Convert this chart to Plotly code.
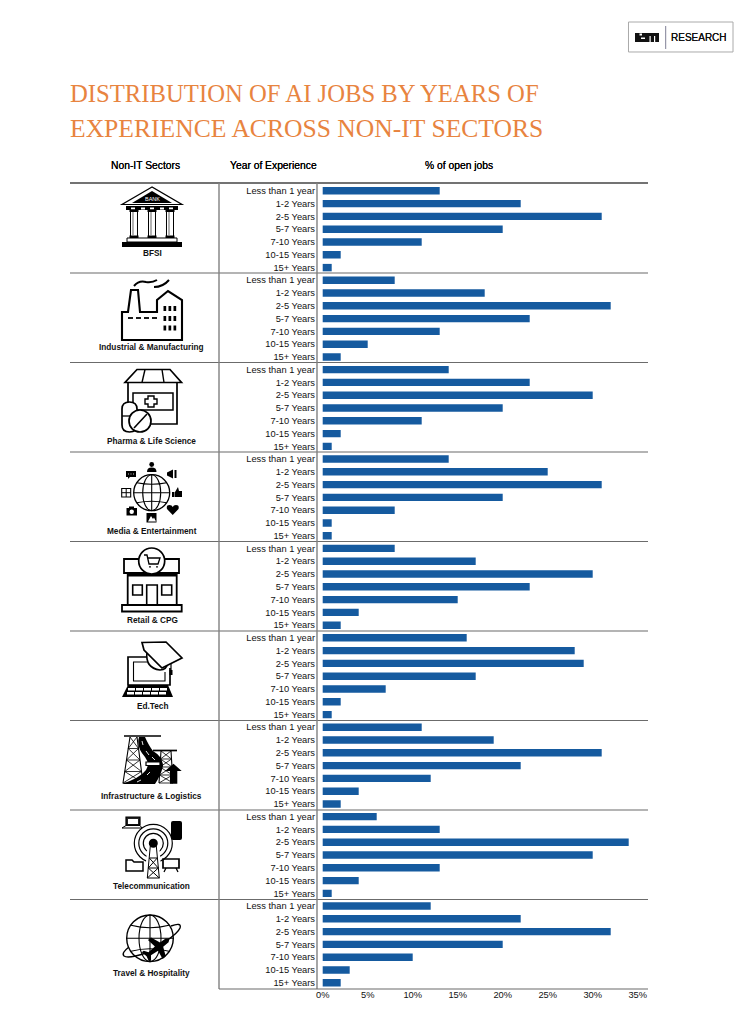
import re
import numpy as np
import plotly.graph_objects as go

W, H = 754, 1014

# ---------- data ----------
experience = ["Less than 1 year", "1-2 Years", "2-5 Years", "5-7 Years", "7-10 Years", "10-15 Years", "15+ Years"]
sectors = ["BFSI", "Industrial & Manufacturing", "Pharma & Life Science", "Media & Entertainment",
           "Retail & CPG", "Ed.Tech", "Infrastructure & Logistics", "Telecommunication", "Travel & Hospitality"]
bfsi = [13, 22, 31, 20, 11, 2, 1]
industrial = [8, 18, 32, 23, 13, 5, 2]
pharma = [14, 23, 30, 20, 11, 2, 1]
media = [14, 25, 31, 20, 8, 1, 1]
retail = [8, 17, 30, 23, 15, 4, 2]
edtech = [16, 28, 29, 17, 7, 2, 1]
infrastructure = [11, 19, 31, 22, 12, 4, 2]
telecom = [6, 13, 34, 30, 13, 4, 1]
travel = [12, 22, 32, 20, 10, 3, 2]
x_ticks = [0, 5, 10, 15, 20, 25, 30, 35]
title_lines = ["DISTRIBUTION OF AI JOBS BY YEARS OF", "EXPERIENCE ACROSS NON-IT SECTORS"]

series = [bfsi, industrial, pharma, media, retail, edtech, infrastructure, telecom, travel]
BAR = "#155A9F"
RULE = "#6b6b6b"

# ---------- pixel helpers (decorations only) ----------
shapes = []
annots = []
TOK = re.compile(r"[MLQCZ]|-?\d+\.?\d*")


def conv(d):
    out, isx = [], True
    for t in TOK.findall(d):
        if t in "MLQCZ":
            out.append(t)
        else:
            v = float(t)
            out.append(f"{v / W:.5f}" if isx else f"{1 - v / H:.5f}")
            isx = not isx
    return " ".join(out)


def sh(d, fill=None, w=0.0, c="#000"):
    shapes.append(dict(type="path", path=conv(d), xref="paper", yref="paper",
                       fillcolor=fill or "rgba(0,0,0,0)", line=dict(color=c, width=w)))


def line(x0, y0, x1, y1, w=1.0, c="#000"):
    sh(f"M {x0} {y0} L {x1} {y1}", None, w, c)


def rect(x0, y0, x1, y1, fill=None, w=1.4, c="#000"):
    sh(f"M {x0} {y0} L {x1} {y0} L {x1} {y1} L {x0} {y1} Z", fill, w, c)


def poly(pts, fill="#000", w=0.0, c="#000"):
    d = "M " + " L ".join(f"{a} {b}" for a, b in pts) + " Z"
    sh(d, fill, w, c)


def circ(cx, cy, r, ry=None, fill=None, w=1.4, c="#000"):
    ry = r if ry is None else ry
    shapes.append(dict(type="circle", xref="paper", yref="paper",
                       x0=(cx - r) / W, x1=(cx + r) / W, y0=1 - (cy + ry) / H, y1=1 - (cy - ry) / H,
                       fillcolor=fill or "rgba(0,0,0,0)", line=dict(color=c, width=w)))


def text(x, y, s, size=9.5, color="#111", anchor="center", bold=False, family="Liberation Sans", shadow=None):
    f = dict(family=family, size=size, color=color)
    if shadow:
        f["shadow"] = shadow
    annots.append(dict(xref="paper", yref="paper", x=x / W, y=1 - y / H, text=f"<b>{s}</b>" if bold else s,
                       showarrow=False, xanchor=anchor, yanchor="middle", align=anchor, font=f))


# ---------- rules ----------
GROUP_RULES = [273, 362.5, 452, 541.5, 631, 720.5, 810, 899.5]
line(70, 183, 648, 183, 1.7, "#444")
for yy in GROUP_RULES:
    line(70, yy, 648, yy, 1.1, RULE)
line(219, 183, 219, 989, 1.4, "#808080")
line(317, 183, 317, 989, 1.4, "#808080")
line(219, 989, 648, 989, 1.1, RULE)

# ---------- BFSI icon ----------
sh("M 152 187 L 122 204.5 L 182 204.5 Z", None, 1.2)
poly([(152, 191), (132, 203), (172, 203)])
text(152, 198.5, "BANK", 5.5, "#fff")
rect(126, 206, 178, 210, "#000", 0)
for xx in (131, 141, 150, 160, 169):
    rect(xx, 207.5, xx + 4, 209.5, "#fff", 0)
for xx in (134, 152, 170):
    rect(xx - 3.5, 210, xx + 3.5, 237, None, 1.0)
    line(xx - 1, 212, xx - 1, 235, 0.6)
    rect(xx - 4.5, 235.5, xx + 4.5, 238, "#000", 0)
    rect(xx - 4.5, 210, xx + 4.5, 212, "#000", 0)
rect(127, 238, 177, 242, None, 1.0)
rect(122, 242, 182, 247, "#000", 0)

# ---------- Industrial icon ----------
sh("M 122 340 L 122 312 L 128 312 L 131 290 L 138 290 L 140 312 L 157 312 L 157 300 "
   "L 168 291 L 182 300 L 182 340 Z", None, 2.1)
for xx in (128, 136, 144, 152):
    line(xx, 318, xx + 5, 318, 1.8)
for yy in (306, 316, 325.5):
    for xx in (163.5, 168.5, 173.5):
        rect(xx, yy, xx + 2.7, yy + 5, "#000", 0)
sh("M 134 286 Q 139 280 146 282 Q 152 283 157 280", None, 2.0)
sh("M 154 287 Q 163 287 169 280", None, 2.0)

# ---------- Pharma icon ----------
poly([(137, 369.5), (170, 369.5), (181.5, 382.5), (125, 382.5)], None, 1.7)
line(145, 369.5, 142, 382.5, 1.4)
line(162, 369.5, 164, 382.5, 1.4)
sh("M 128 383 L 128 404 M 177 383 L 177 424 L 148 424", None, 1.7)
rect(133, 393, 173, 410, None, 1.5)
sh("M 148 396 L 154 396 L 154 399 L 157 399 L 157 404 L 154 404 L 154 407 L 148 407 L 148 404 "
   "L 145 404 L 145 399 L 148 399 Z", "#fff", 1.4)
sh("M 122 409 Q 122 402 129.5 402 Q 137 402 137 409 L 137 425 Q 137 432 129.5 432 Q 122 432 122 425 Z", "#fff", 1.7)
line(122, 416, 137, 416, 1.3)
circ(140, 421, 11, fill="#fff", w=1.7)
line(134, 428, 147, 414, 1.6)

# ---------- Media icon ----------
cx, cy = 151.7, 492.7
circ(cx, cy, 18, w=1.3)
circ(cx, cy, 9, 18, w=1.1)
line(cx, cy - 18, cx, cy + 18, 1.1)
line(cx - 18, cy, cx + 18, cy, 1.1)
sh(f"M {cx - 15} {cy - 10} Q {cx} {cy - 7} {cx + 15} {cy - 10} M {cx - 15} {cy + 10} Q {cx} {cy + 7} {cx + 15} {cy + 10}", None, 1.1)
circ(151.7, 464.5, 2.4, fill="#000", w=0)
sh("M 147 472 Q 147 467.5 151.7 467.5 Q 156.5 467.5 156.5 472 Z", "#000")
sh("M 126 471 L 136 471 L 136 477 L 130 477 L 128 479 L 128 477 L 126 477 Z", "#000")
for xx in (128.5, 131, 133.5):
    rect(xx - 0.4, 473.6, xx + 0.4, 474.4, "#fff", 0)
poly([(167, 472.5), (173, 469.5), (173, 478.5), (167, 475.5)])
rect(174.5, 470, 176.5, 478, "#000", 0)
rect(121.7, 488.5, 130.7, 497, None, 1.1)
line(126.2, 488.5, 126.2, 497, 1.0)
line(121.7, 492.7, 130.7, 492.7, 1.0)
rect(172, 492, 174.5, 497, "#000", 0)
sh("M 175 492 L 178 487 L 179 491 L 182 491 L 182 497 L 175 497 Z", "#000")
sh("M 172.7 515 L 167 509 Q 166 505 169.5 505 Q 172 505 172.7 507 Q 173.5 505 176 505 Q 179.5 505 178.5 509 Z", "#000")
rect(146.5, 513, 156.5, 522.5, "#000", 0)
poly([(148, 521.5), (151, 516), (153, 519), (154, 517.5), (156, 521.5)], "#fff")
rect(126.5, 508, 137, 515.5, "#000", 0)
rect(129, 506.5, 134, 508.5, "#000", 0)
circ(131.7, 511.7, 2.2, fill="#fff", w=0)

# ---------- Retail icon ----------
sh("M 127.7 573 L 127.7 605 M 176.7 573 L 176.7 605", None, 1.8)
rect(124, 559, 179, 573, None, 1.8)
rect(127.7, 573, 176.7, 576.5, "#000", 0)
circ(151.7, 561, 13, fill="#fff", w=1.7)
sh("M 144 555 L 147 555 L 149 564 L 158 564 L 160 558 L 147.5 558", None, 1.3)
circ(150, 566.8, 0.9, fill="#000", w=0)
circ(157, 566.8, 0.9, fill="#000", w=0)
sh("M 146.7 605 L 146.7 585 L 157.3 585 L 157.3 605", None, 1.6)
rect(132.7, 585, 142.3, 595, None, 1.6)
rect(161.7, 585, 171.7, 595, None, 1.6)
rect(122, 605, 181.7, 611.5, None, 1.8)

# ---------- Ed.Tech icon ----------
sh("M 147 657 L 128 657 L 128 685 L 170 685 L 170 668", None, 1.7)
sh("M 147 662 L 133.5 662 L 133.5 681 L 165 681 L 165 672", None, 1.1)
poly([(128, 685), (168, 685), (173, 697), (122, 697)])
for xx in (128, 136, 144, 152, 160):
    rect(xx, 688, xx + 7, 690.5, "#fff", 0)
    rect(xx - 1, 692, xx + 6, 694.5, "#fff", 0)
sh("M 147 652 Q 145 668 160 670 Q 167 670 168 662", "#fff", 1.6)
poly([(142, 642.5), (166, 642), (182, 658), (162, 668), (144, 650)], "#fff", 1.7)
line(171, 664, 171, 672, 1.2)
rect(169.5, 670, 172.5, 675, "#000", 0)

# ---------- Infrastructure icon ----------
line(124, 736, 161, 736, 1.7)
line(153, 750.5, 177, 750.5, 1.7)
for pts in ((130, 737, 123, 783, 137, 737, 143, 783), (161, 751, 159, 783, 171, 751, 173, 783)):
    a, b, c2, d = pts[0], pts[2], pts[4], pts[6]
    sh(f"M {a} {pts[1]} L {b} {pts[3]} M {c2} {pts[5]} L {d} {pts[7]}", None, 1.1)
    n = 4
    t0, t1 = pts[1], pts[3]
    for i in range(n):
        y0 = t0 + (t1 - t0) * i / n
        y1 = t0 + (t1 - t0) * (i + 1) / n
        lx0 = a + (b - a) * i / n
        rx0 = c2 + (d - c2) * i / n
        lx1 = a + (b - a) * (i + 1) / n
        rx1 = c2 + (d - c2) * (i + 1) / n
        sh(f"M {lx0} {y0} L {rx1} {y1} M {rx0} {y0} L {lx1} {y1} M {lx1} {y1} L {rx1} {y1}", None, 0.8)
sh("M 139 737 L 145 737 Q 149 746 153 751 Q 163 757 163 766 Q 161 775 155 784 L 121.7 784 "
   "Q 140 778 146 770 Q 150 764 145 757 Q 136 747 139 737 Z", "#000", 0)
for (x0_, y0_, x1_, y1_) in ((142, 741, 143, 745), (146, 751, 149, 755), (152, 757, 155, 760),
                             (150, 772, 147, 775), (141, 780, 137, 782)):
    line(x0_, y0_, x1_, y1_, 0.9, "#fff")
rect(146, 762, 160, 765.5, "#fff", 1.2)
poly([(173.5, 763.7), (181.7, 771), (177.3, 771), (177.3, 783.7), (170, 783.7), (170, 771), (165, 771)])

# ---------- Telecom icon ----------
cx, cy = 153.3, 843.3
circ(cx, cy, 10, w=1.2)
circ(cx, cy, 14.5, w=1.2)
circ(cx, cy, 19, w=1.2)
poly([(cx - 6, 848), (cx + 6, 848), (cx + 9, 880), (cx - 9, 880)], "#fff", 0)
circ(cx, cy, 4.5, fill="#000", w=0)
sh(f"M {cx - 3} 846 L {cx - 6} 878 M {cx + 3} 846 L {cx + 6} 878 M {cx - 4} 858 L {cx + 4} 858 "
   f"M {cx - 5} 868 L {cx + 5} 868 M {cx - 6} 878 L {cx + 6} 878 M {cx - 4} 858 L {cx + 5} 868 M {cx + 4} 858 L {cx - 5} 868 "
   f"M {cx - 5} 868 L {cx + 6} 878 M {cx + 5} 868 L {cx - 6} 878", None, 1.0)
rect(126, 817, 140, 825, "#222", 1.2)
rect(128, 819, 138, 824, "#fff", 0)
poly([(126, 825.5), (140, 825.5), (142, 828), (122, 828)], "#fff", 1.0)
sh("M 173 821 L 180 821 Q 182 821 182 823 L 182 838 Q 182 840 180 840 L 173 840 "
   "Q 171 840 171 838 L 171 823 Q 171 821 173 821 Z", "#000")
sh("M 126 871 L 126 860 L 132 860 L 134 862 L 143 862 L 143 871 Z", None, 1.5)
rect(163, 859, 179, 868, None, 1.7)
sh("M 166 868 L 164 872 M 176 868 L 178 872", None, 1.3)

# ---------- Travel icon ----------
cx, cy, r = 150, 938.3, 23.3
circ(cx, cy, r, w=1.4)
circ(cx, cy, 11, r, w=1.1)
line(cx, cy - r, cx, cy + r, 1.1)
line(cx - r, cy, cx + r, cy, 1.1)
sh(f"M {cx - 19} {cy - 13} Q {cx} {cy - 8} {cx + 19} {cy - 13} M {cx - 19} {cy + 13} Q {cx} {cy + 8} {cx + 19} {cy + 13}",
   None, 1.1)
sh("M 171 926 Q 182 922 180 928 Q 178 933 166 941", None, 1.4)
sh("M 129 947 Q 121 953 124 956 Q 128 959 146 953", None, 1.4)
nose = np.array([169.5, 938.5])
u = np.array([-0.79, 0.61])
n_ = np.array([0.61, 0.79])
plane = [(0, 0), (3, 2.4), (10, 2.6), (14, 12), (18, 12), (16.5, 2.6), (25, 2), (28, 6), (30.5, 6), (29, 0),
         (30.5, -6), (28, -6), (25, -2), (16.5, -2.6), (18, -12), (14, -12), (10, -2.6), (3, -2.4)]
pts = [tuple(np.round(nose + t * u + s * n_, 2)) for t, s in plane]
poly([(float(a), float(b)) for a, b in pts], "#000", 0)

# ---------- logo ----------
rect(628.5, 22, 733, 52, "#fff", 1.0, "#aaa")
rect(635, 33, 659, 42, "#111", 0)
rect(639.5, 33.5, 642, 35.5, "#fff", 0)
rect(641, 37.5, 645, 39, "#fff", 0)
rect(649.5, 36, 650.7, 42, "#fff", 0)
rect(654, 36, 655.2, 42, "#fff", 0)
line(665.7, 26, 665.7, 49, 1.0, "#7f7f95")
text(668.5, 37.5, "RESEARCH", 10, "#111", "left", shadow="0 0 0.5px #000")

# ---------- texts ----------
text(68, 93, title_lines[0], 24.7, "#E8843F", "left", family="Liberation Serif")
text(68, 128.5, title_lines[1], 25.6, "#E8843F", "left", family="Liberation Serif")
text(145.5, 166, "Non-IT Sectors", 10.3, "#000", shadow="0 0 0.6px #000")
text(273.5, 166, "Year of Experience", 10.3, "#000", shadow="0 0 0.6px #000")
text(458.5, 166, "% of open jobs", 10.3, "#000", shadow="0 0 0.6px #000")
label_y = [253, 347, 441.5, 531, 620, 706, 796, 886, 973]
label_x = [152, 151.5, 151.5, 152, 152, 152, 151, 151, 151]
for s, lx, ly in zip(sectors, label_x, label_y):
    text(lx, ly, s, 8.25, "#111", bold=True)

# ---------- chart ----------
PLOT_L, PLOT_R = 318.0, 648.0
PX_PER_UNIT = 9.0
ZERO_PX = 322.7
first_center, group_step, row_step = 190.8, 89.4, 12.8

fig = go.Figure()
layout_axes = {}
for g, vals in enumerate(series):
    name = "y" if g == 0 else f"y{g + 1}"
    fig.add_trace(go.Bar(x=vals, y=experience, orientation="h", xaxis="x", yaxis=name,
                         marker=dict(color=BAR, line=dict(width=0)), width=0.58,
                         name=sectors[g], showlegend=False,
                         hovertemplate="%{y}: %{x}%<extra>" + sectors[g] + "</extra>"))
    top = first_center + g * group_step - row_step / 2
    bottom = top + 7 * row_step
    layout_axes["yaxis" if g == 0 else f"yaxis{g + 1}"] = dict(
        domain=[1 - bottom / H, 1 - top / H], anchor="x", type="category",
        autorange=False, range=[6.5, -0.5], showgrid=False, zeroline=False, showline=False,
        ticks="", ticklabelstandoff=2,
        tickfont=dict(family="Liberation Sans", size=9.3, color="#111"),
        automargin=False)

fig.update_layout(
    width=W, height=H, margin=dict(l=0, r=0, t=0, b=0, autoexpand=False),
    paper_bgcolor="#fff", plot_bgcolor="#fff", showlegend=False,
    shapes=shapes, annotations=annots,
    xaxis=dict(domain=[PLOT_L / W, PLOT_R / W], anchor="y9",
               range=[(PLOT_L - ZERO_PX) / PX_PER_UNIT, (PLOT_R - ZERO_PX) / PX_PER_UNIT],
               tickvals=x_ticks, ticktext=[f"{v}%" for v in x_ticks],
               showgrid=False, zeroline=False, showline=False, ticks="",
               ticklabelstandoff=-2,
               tickfont=dict(family="Liberation Sans", size=9.3, color="#111"), automargin=False),
    **layout_axes,
)

fig.write_html("out.html", post_script="document.body.style.margin='0';document.body.style.overflow='hidden';",
               config={"displayModeBar": False})
